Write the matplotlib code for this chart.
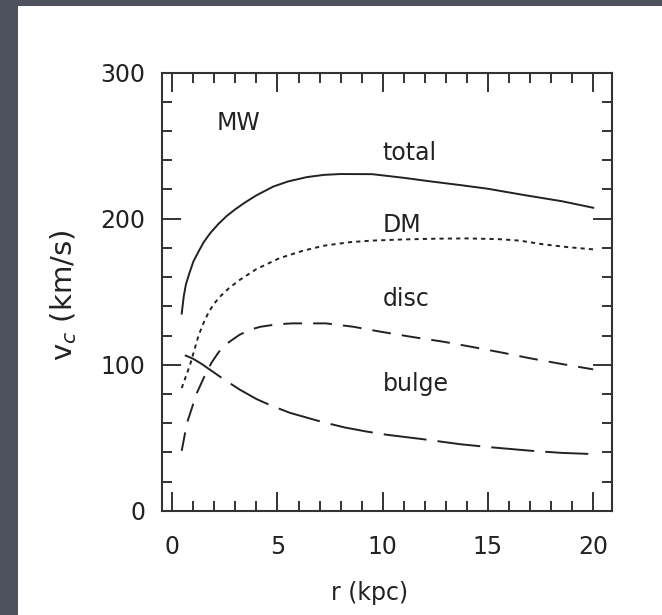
import matplotlib
matplotlib.use("Agg")
import matplotlib.pyplot as plt
from matplotlib.patches import Rectangle
from matplotlib.ticker import MultipleLocator

# ---- data ----
r_total = [0.45, 0.55, 0.65, 0.8, 1.0, 1.25, 1.5, 1.8, 2.2, 2.6, 3.0, 3.5, 4.0, 4.8, 5.5, 6.4, 7.2, 8.0,
           9.5, 11.0, 12.3, 13.7, 15.0, 16.8, 18.5, 20.0]
v_total = [135, 147, 155, 162, 170.5, 177.5, 184, 190, 196.5, 202, 206.5, 211.5, 216, 222, 225.5, 228.5, 230, 230.6,
           230.5, 228, 225.5, 223, 220.5, 216, 212, 207.5]

r_dm = [0.45, 0.65, 0.85, 1.05, 1.25, 1.5, 1.75, 2.0, 2.3, 2.7, 3.2, 4.0, 5.1, 6.2, 7.2, 8.5, 9.5,
        11.0, 12.5, 14.0, 15.5, 16.5, 17.6, 18.8, 20.0]
v_dm = [84, 92, 100, 110, 120, 129, 136.5, 142, 147, 152.5, 158, 165.5, 173, 178, 181.5, 184, 185,
        185.8, 186.3, 186.5, 186, 185, 182.5, 180.5, 179]

r_disc = [0.45, 0.7, 0.95, 1.15, 1.5, 1.85, 2.2, 2.6, 3.2, 3.7, 4.2, 5.0, 5.7, 7.3, 8.6, 9.9, 11.4,
          12.9, 14.2, 15.7, 17.0, 18.5, 20.0]
v_disc = [41, 60, 71, 80, 91, 101, 108.5, 114.5, 120.5, 124, 126, 127.7, 128.3, 128.3, 126, 122.6, 119,
          115.7, 112.3, 108.2, 104.4, 100.5, 96.8]

r_bulge = [0.6, 1.0, 1.4, 1.8, 2.4, 3.2, 4.0, 4.7, 5.6, 6.7, 7.2, 8.2, 9.2, 10.2, 11.9, 13.7, 15.1,
           17.0, 18.5, 20.0]
v_bulge = [106.5, 104, 100.5, 96.5, 90.5, 83, 76.5, 72, 67, 62.5, 60.5, 57, 54.3, 52, 49, 45.5, 43.5,
           41.1, 39.6, 38.8]

labels = ["total", "DM", "disc", "bulge"]
label_y = [240, 191, 140, 82]
panel_name = "MW"
x_ticks = [0, 5, 10, 15, 20]
y_ticks = [0, 100, 200, 300]

plt.rcParams["lines.scale_dashes"] = False
plt.rcParams["font.family"] = ["DejaVu Sans"]

W, H = 662, 615
fig = plt.figure(figsize=(W / 100, H / 100), dpi=100)
fig.patch.set_facecolor("#4e525c")
fig.patches.append(Rectangle((17.5 / W, 0), 1 - 17.5 / W, (H - 6) / H,
                             transform=fig.transFigure, facecolor="white",
                             edgecolor="none", zorder=-10))

ax = fig.add_axes([161.7 / W, (H - 510.7) / H, 450 / W, 438 / H])
ax.set_zorder(5)
ax.set_facecolor("white")

ink = "#222222"
lw = 1.4
ax.plot(r_total, v_total, color=ink, lw=lw, linestyle="-", solid_joinstyle="round")
ax.plot(r_dm, v_dm, color=ink, lw=lw, linestyle=(0, (3, 3)))
ax.plot(r_disc, v_disc, color=ink, lw=lw, linestyle=(0, (13.5, 8)))
ax.plot(r_bulge, v_bulge, color=ink, lw=lw, linestyle=(0, (31, 8)))

ax.set_xlim(-0.5, 20.88)
ax.set_ylim(0, 300)
ax.set_xticks(x_ticks)
ax.set_yticks(y_ticks)
ax.xaxis.set_minor_locator(MultipleLocator(1))
ax.yaxis.set_minor_locator(MultipleLocator(20))
ax.tick_params(which="both", direction="in", top=True, right=True,
               color="#333333", width=1.4, labelcolor=ink, labelsize=17)
ax.tick_params(which="major", length=13.5)
ax.tick_params(which="minor", length=7)
ax.tick_params(axis="y", which="major", pad=12)
ax.tick_params(axis="x", which="major", pad=17.5)
for s in ax.spines.values():
    s.set_linewidth(1.5)
    s.set_color("#333333")

ax.set_xlabel("r (kpc)", fontsize=17, color=ink, va="center")
ax.xaxis.set_label_coords(0.462, -0.188)
ax.set_ylabel("v$_c$ (km/s)", fontsize=21, color=ink, va="center")
ax.yaxis.set_label_coords(-0.219, 0.492)

ax.text(2.1, 260.7, panel_name, fontsize=17, color=ink, va="baseline", ha="left")
for lab, ly in zip(labels, label_y):
    ax.text(10.0, ly, lab, fontsize=17, color=ink, va="baseline", ha="left")

fig.savefig("out.png", dpi=100, facecolor=fig.get_facecolor())
